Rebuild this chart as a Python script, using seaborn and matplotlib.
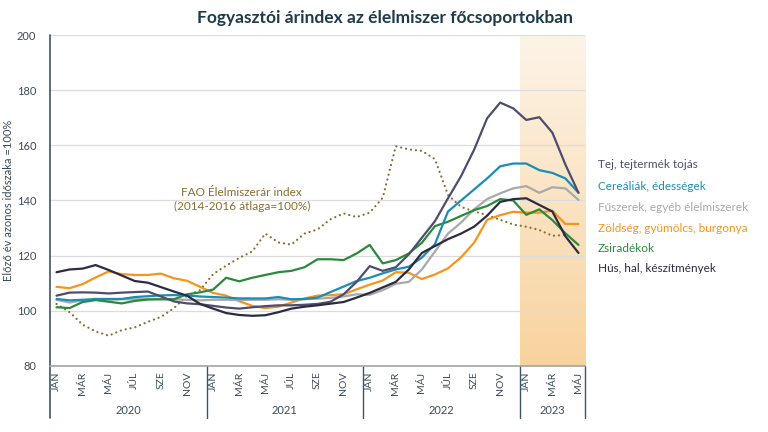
import numpy as np
import pandas as pd
import matplotlib
matplotlib.use("Agg")
import matplotlib.pyplot as plt
import seaborn as sns
from matplotlib.colors import LinearSegmentedColormap

sns.set_theme(style="white")
plt.rcParams['font.family'] = ['Lato', 'DejaVu Sans']

# havi adatok 2020 jan - 2023 maj
years = ["2020", "2021", "2022", "2023"]
month_names = ["JAN", "", "MÁR", "", "MÁJ", "", "JÚL", "", "SZE", "", "NOV", ""]

tej = [105.5, 106.6, 106.7, 106.6, 106.3, 106.6, 106.8, 107.0, 105.2, 103.4, 102.7, 102.4,
       101.8, 101.2, 100.8, 101.3, 101.7, 102.0, 102.0, 102.2, 102.5, 103.3, 106.0, 110.5,
       116.2, 114.5, 115.8, 120.5, 126.5, 132.5, 140.8, 148.8, 158.4, 169.8, 175.5, 173.4,
       169.2, 170.2, 164.6, 153.0, 142.8]
cereal = [104.3, 103.8, 104.0, 104.3, 104.3, 104.3, 105.0, 105.3, 105.6, 105.7, 105.6, 105.2,
          105.0, 104.8, 104.5, 104.5, 104.5, 105.0, 104.2, 104.3, 104.8, 106.8, 108.8, 110.8,
          112.0, 113.6, 115.0, 116.0, 119.3, 124.2, 136.0, 140.0, 144.0, 148.0, 152.4, 153.4,
          153.4, 151.0, 150.0, 148.0, 142.8]
fuszer = [104.0, 103.0, 103.8, 104.0, 104.0, 104.2, 104.2, 104.3, 104.2, 104.2, 104.0, 103.8,
          104.0, 104.0, 103.9, 104.0, 104.0, 104.2, 104.0, 104.2, 104.4, 104.7, 105.2, 106.0,
          105.8, 107.5, 109.8, 110.5, 115.0, 121.5, 128.0, 132.0, 136.8, 140.5, 142.6, 144.4,
          145.2, 142.8, 144.8, 144.4, 140.2]
zoldseg = [108.7, 108.2, 109.7, 112.1, 114.3, 113.3, 113.0, 113.0, 113.5, 111.8, 110.9, 108.7,
           106.5, 105.5, 103.5, 101.8, 101.0, 101.5, 103.0, 104.5, 105.5, 105.7, 106.0, 107.8,
           109.5, 111.0, 114.0, 113.8, 111.5, 113.2, 115.4, 119.4, 124.7, 133.0, 134.7, 135.9,
           135.6, 135.6, 136.3, 131.5, 131.5]
zsir = [101.3, 101.0, 103.2, 103.9, 103.3, 102.7, 103.6, 104.1, 104.2, 104.2, 106.0, 106.7,
        107.7, 112.0, 110.7, 112.0, 113.0, 114.0, 114.5, 115.8, 118.7, 118.7, 118.4, 120.8,
        123.9, 117.2, 118.4, 120.8, 124.7, 130.7, 132.3, 134.4, 136.5, 138.0, 140.5, 140.0,
        134.8, 136.8, 132.9, 128.1, 123.9]
hus = [114.0, 115.0, 115.3, 116.6, 114.8, 112.8, 110.8, 110.2, 108.6, 107.0, 105.5, 102.5,
       100.8, 99.2, 98.5, 98.2, 98.4, 99.5, 100.8, 101.5, 102.0, 102.6, 103.2, 104.8,
       106.5, 108.5, 110.5, 115.0, 121.0, 123.5, 126.0, 128.0, 130.5, 134.5, 139.5, 140.5,
       140.8, 138.4, 136.0, 127.0, 121.0]
fao = [102.5, 99.5, 95.0, 92.5, 91.0, 93.0, 94.0, 96.0, 97.8, 101.0, 105.5, 107.5,
       113.3, 116.4, 119.2, 121.5, 128.0, 124.8, 124.0, 128.0, 129.5, 133.2, 135.3, 134.0,
       135.6, 141.0, 159.7, 158.5, 158.0, 155.0, 142.0, 137.7, 136.0, 134.7, 133.0, 131.3,
       130.5, 129.3, 127.2, 127.5, np.nan]

series = [
    ("Zöldség, gyümölcs, burgonya", zoldseg, "#f7941d"),
    ("Fűszerek, egyéb élelmiszerek", fuszer, "#a9a9a9"),
    ("Zsiradékok", zsir, "#2a8a3c"),
    ("Cereáliák, édességek", cereal, "#1b8db5"),
    ("Tej, tejtermék tojás", tej, "#4e4d6e"),
    ("Hús, hal, készítmények", hus, "#2b2b42"),
]
legend_order = ["Tej, tejtermék tojás", "Cereáliák, édességek", "Fűszerek, egyéb élelmiszerek",
                "Zöldség, gyümölcs, burgonya", "Zsiradékok", "Hús, hal, készítmények"]

n = len(hus)
idx = np.arange(n)
df = pd.DataFrame({"ho": idx, "FAO": fao})
for name, vals, col in series:
    df[name] = vals

fig = plt.figure(figsize=(7.68, 4.32), dpi=100)
ax = fig.add_axes([50/768, 1-366/432, 535/768, 331/432])

# 2023 kiemelés, színátmenet (fent halvány, lent erősebb)
grad = np.linspace(0, 1, 256).reshape(-1, 1)
cmap = LinearSegmentedColormap.from_list("sav", ["#fdf4e8", "#f8d39e"])
ax.imshow(grad, extent=[35.5, 40.5, 80, 200], origin="upper", aspect="auto",
          cmap=cmap, zorder=0)

for y in range(100, 201, 20):
    ax.axhline(y, color="#dcdcdc", lw=0.9, zorder=1)

sns.lineplot(data=df, x="ho", y="FAO", ax=ax, color="#8b6d2c", lw=1.6,
             linestyle=(0, (0.05, 2.2)), dash_capstyle="round", zorder=2)
for name, vals, col in series:
    sns.lineplot(data=df, x="ho", y=name, ax=ax, color=col, lw=1.6, zorder=3)

ax.set_xlim(-0.5, n - 0.5)
ax.set_ylim(80, 200)
ax.set_yticks(range(80, 201, 20))
ax.set_xticks(idx)
ax.set_xticklabels([month_names[i % 12] for i in idx], rotation=90, va="top")
ax.tick_params(axis="x", length=0, pad=4, labelsize=7.5, labelcolor="#3b4a58")
ax.tick_params(axis="y", length=0, pad=10, labelsize=8, labelcolor="#3b4a58")
ax.set_xlabel("")
ax.set_ylabel("Előző év azonos időszaka =100%", fontsize=8, color="#3b4a58", labelpad=2)

for s in ["top", "right", "left"]:
    ax.spines[s].set_visible(False)
ax.spines["bottom"].set_color("#9aa6ae")
ax.spines["bottom"].set_linewidth(1.2)

# évek elválasztása a tengely alatt
trans = ax.get_xaxis_transform()
ax.plot([-0.5, -0.5], [1, -0.157], transform=trans, color="#3d5566", lw=1.2, clip_on=False)
for b in [11.5, 23.5, 35.5, 40.5]:
    ax.plot([b, b], [0, -0.157], transform=trans, color="#3d5566", lw=1.0, clip_on=False)
for k, yr in enumerate(years):
    start = k * 12 - 0.5
    end = min(start + 12, n - 0.5)
    ax.text((start + end) / 2, -0.133, yr, transform=trans, ha="center", va="center",
            fontsize=8, color="#3b4a58")

ax.text(14.2, 140.5, "FAO Élelmiszerár index\n(2014-2016 átlaga=100%)", ha="center",
        va="center", fontsize=8.5, color="#8b6d2c", linespacing=1.35)

colors = {name: col for name, vals, col in series}
ly = [165, 186, 207, 228, 248, 268]
for name, y in zip(legend_order, ly):
    fig.text(598/768, 1 - y/432, name, ha="left", va="center", fontsize=8.5, color=colors[name])

fig.text(385/768, 1 - 18/432, "Fogyasztói árindex az élelmiszer főcsoportokban", ha="center",
         va="center", fontsize=12.5, fontweight="bold", color="#1d3b4b")

fig.savefig("out.png", dpi=100)
